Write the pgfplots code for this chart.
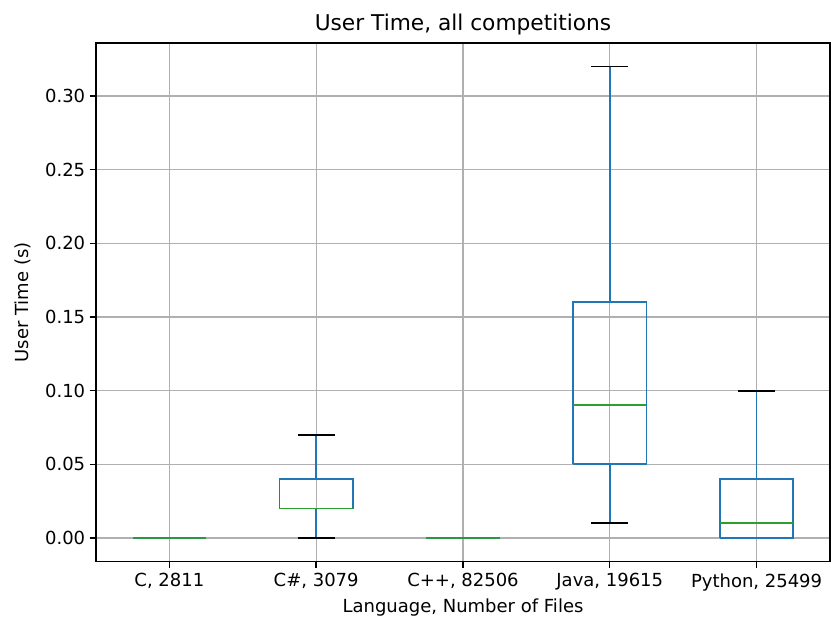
\documentclass[border=0pt]{standalone}
\usepackage{fontspec}
\setmainfont{DejaVu Sans}
\usepackage{pgfplots}
\pgfplotsset{compat=1.18}
\definecolor{mplblue}{HTML}{1F77B4}
\definecolor{mplgreen}{HTML}{2CA02C}
\definecolor{gridgray}{HTML}{B0B0B0}
\begin{document}
\begin{tikzpicture}
\begin{axis}[
  at={(0pt,0pt)}, anchor=south west,
  scale only axis,
  width=734pt, height=518.5pt,
  xmin=0.5, xmax=5.5,
  ymin=-0.016, ymax=0.336,
  xtick={1,2,3,4,5},
  xticklabels={{C, 2811},{C\#, 3079},{C++, 82506},{Java, 19615},{Python, 25499}},
  ytick={0,0.05,0.10,0.15,0.20,0.25,0.30},
  /pgf/number format/assume math mode=true,
  yticklabel style={/pgf/number format/fixed,/pgf/number format/fixed zerofill,/pgf/number format/precision=2},
  scaled y ticks=false,
  tick label style={font=\fontsize{18}{21}\selectfont, text=black},
  tick align=outside,
  tick pos=left,
  major tick length=6.3pt,
  every tick/.style={black, line width=1.4pt},
  axis line style={black, line width=1.4pt},
  xticklabel style={yshift=-2pt},
  yticklabel style={xshift=-1pt},
  grid=major,
  major grid style={gridgray, line width=1.3pt},
  title={User Time, all competitions},
  title style={font=\fontsize{21.7}{26}\selectfont, at={(axis description cs:0.5,1)}, anchor=base, yshift=6pt},
  xlabel={Language, Number of Files},
  xlabel style={font=\fontsize{18}{21}\selectfont, at={(axis description cs:0.5,0)}, anchor=base, yshift=-51pt},
  ylabel={User Time (s)},
  ylabel style={font=\fontsize{18}{21}\selectfont, at={(axis description cs:-0.0926,0.5)}, anchor=base},
  clip=false,
]
% ---- C (all zero)
\addplot[black, line width=1.8pt] coordinates {(0.875,0) (1.125,0)};
\addplot[mplblue, line width=1.8pt] coordinates {(0.75,0) (1.25,0)};
\addplot[mplgreen, line width=1.8pt, opacity=0.8] coordinates {(0.75,0) (1.25,0)};
% ---- C#
\addplot[mplblue, line width=1.8pt] coordinates {(2,0.02) (2,0)};
\addplot[mplblue, line width=1.8pt] coordinates {(2,0.04) (2,0.07)};
\addplot[black, line width=1.8pt] coordinates {(1.875,0) (2.125,0)};
\addplot[black, line width=1.8pt] coordinates {(1.875,0.07) (2.125,0.07)};
\addplot[mplblue, line width=1.8pt] coordinates {(1.75,0.02) (2.25,0.02) (2.25,0.04) (1.75,0.04) (1.75,0.02)};
\addplot[mplgreen, line width=1.8pt] coordinates {(1.75,0.02) (2.25,0.02)};
% ---- C++ (all zero)
\addplot[black, line width=1.8pt] coordinates {(2.875,0) (3.125,0)};
\addplot[mplblue, line width=1.8pt] coordinates {(2.75,0) (3.25,0)};
\addplot[mplgreen, line width=1.8pt, opacity=0.8] coordinates {(2.75,0) (3.25,0)};
% ---- Java
\addplot[mplblue, line width=1.8pt] coordinates {(4,0.05) (4,0.01)};
\addplot[mplblue, line width=1.8pt] coordinates {(4,0.16) (4,0.32)};
\addplot[black, line width=1.8pt] coordinates {(3.875,0.01) (4.125,0.01)};
\addplot[black, line width=1.8pt] coordinates {(3.875,0.32) (4.125,0.32)};
\addplot[mplblue, line width=1.8pt] coordinates {(3.75,0.05) (4.25,0.05) (4.25,0.16) (3.75,0.16) (3.75,0.05)};
\addplot[mplgreen, line width=1.8pt] coordinates {(3.75,0.09) (4.25,0.09)};
% ---- Python
\addplot[mplblue, line width=1.8pt] coordinates {(5,0.04) (5,0.10)};
\addplot[black, line width=1.8pt] coordinates {(4.875,0) (5.125,0)};
\addplot[black, line width=1.8pt] coordinates {(4.875,0.10) (5.125,0.10)};
\addplot[mplblue, line width=1.8pt] coordinates {(4.75,0) (5.25,0) (5.25,0.04) (4.75,0.04) (4.75,0)};
\addplot[mplgreen, line width=1.8pt] coordinates {(4.75,0.01) (5.25,0.01)};
\end{axis}
\pgfresetboundingbox
\path (-96pt,-57.5pt) rectangle (735pt,561.5pt);
\end{tikzpicture}
\end{document}
